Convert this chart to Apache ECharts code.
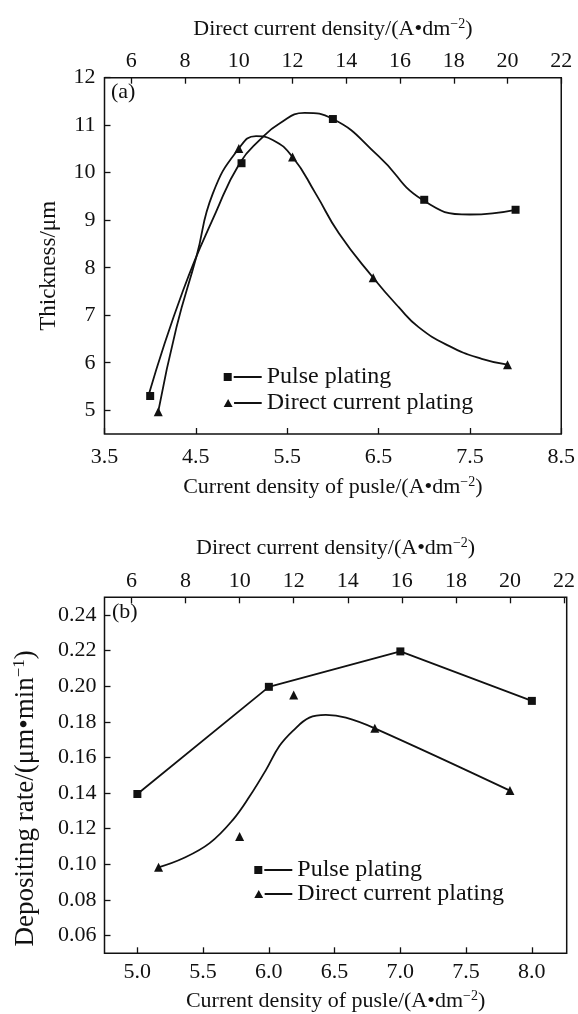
<!DOCTYPE html>
<html>
<head>
<meta charset="utf-8">
<script src="https://cdn.jsdelivr.net/npm/echarts@6/dist/echarts.min.js"></script>
<style>html,body{margin:0;padding:0;background:#fff;}#c{width:578px;height:1014px;}</style>
</head>
<body>
<div id="c"></div>
<script>
// ---------- Data: panel (a) thickness ----------
const aPulseX = [4.0, 5.0, 6.0, 7.0, 8.0];          // current density of pulse
const aPulseY = [5.3, 10.2, 11.13, 9.43, 9.22];
const aDcX = [7, 10, 12, 15, 20];                     // direct current density
const aDcY = [4.97, 10.51, 10.33, 7.79, 5.96];
// curve traces
const aPulseCurveX = [3.98, 4.36, 4.72, 4.98, 5.2, 5.42, 5.69, 6.0, 6.5, 6.98, 7.5, 8.0];
const aPulseCurveY = [5.3, 7.52, 9.17, 10.2, 10.69, 11.04, 11.26, 11.13, 10.35, 9.43, 9.12, 9.22];
const aDcCurveX = [7.0, 7.68, 8.42, 9.03, 10.0, 10.64, 11.26, 12.0, 12.86, 13.73, 15.0, 15.95, 16.69, 17.8, 19.04, 20.0];
const aDcCurveY = [4.97, 6.75, 8.23, 9.56, 10.51, 10.77, 10.69, 10.33, 9.56, 8.72, 7.79, 7.17, 6.75, 6.36, 6.08, 5.96];
const aLeftTicks = [5, 6, 7, 8, 9, 10, 11, 12];
const aTopTicks = [6, 8, 10, 12, 14, 16, 18, 20, 22];

// ---------- Data: panel (b) depositing rate ----------
const bPulseX = [5.0, 6.0, 7.0, 8.0];
const bPulseY = [0.1395, 0.1997, 0.2196, 0.1918];
const bDcX = [7, 10, 12, 15, 20];
const bDcY = [0.0983, 0.1156, 0.1951, 0.1764, 0.1414];
const bDcCurveX = [7.0, 7.91, 8.89, 9.75, 10.37, 10.98, 11.47, 11.96, 12.58, 13.19, 13.93, 15.0, 20.0];
const bDcCurveY = [0.0983, 0.1034, 0.1119, 0.125, 0.1382, 0.1532, 0.1664, 0.1748, 0.1824, 0.1839, 0.1824, 0.1764, 0.1414];
const bLeftTicks = [0.06, 0.08, 0.10, 0.12, 0.14, 0.16, 0.18, 0.20, 0.22, 0.24];
const bBottomTicks = [5.0, 5.5, 6.0, 6.5, 7.0, 7.5, 8.0];
const bTopTicks = [6, 8, 10, 12, 14, 16, 18, 20, 22];

const zip = (xs, ys) => xs.map((x, i) => [x, ys[i]]);
const FONT = 'Liberation Serif';
const FS = 22;
const INK = '#111';
const nameStyle = (fs, pad) => ({ fontFamily: FONT, fontSize: fs, color: INK,
  rich: { sup: { fontFamily: FONT, color: INK, verticalAlign: 'bottom', fontSize: Math.round(fs * 0.62), padding: [0, 0, Math.round(fs * 0.45), 0] } },
  padding: pad || 0 });
const labelStyle = { fontFamily: FONT, fontSize: FS, color: INK };
const tickStyle = { inside: true, length: 6, lineStyle: { color: INK, width: 1.3 } };
const sqIcon = 'path://M0,0H8V8H0Z M10,3H38V5H10Z';
const triIcon = 'path://M4,0L8.5,8H-0.5Z M10,3H38V5H10Z';

const chart = echarts.init(document.getElementById('c'), null, { renderer: 'canvas' });
chart.setOption({
  animation: false,
  backgroundColor: '#fff',
  grid: [
    { left: 104.5, right: 15.3, top: 77.7, bottom: 580, show: true, borderColor: INK, borderWidth: 1.5, backgroundColor: 'transparent' },
    { left: 104.5, right: 10.5, top: 597.3, bottom: 60.7, show: true, borderColor: INK, borderWidth: 1.5, backgroundColor: 'transparent' }
  ],
  xAxis: [
    { gridIndex: 0, type: 'value', position: 'bottom', min: 3.5, max: 8.5, interval: 1,
      axisLine: { show: false }, splitLine: { show: false }, axisTick: tickStyle,
      axisLabel: Object.assign({ margin: 12 }, labelStyle),
      name: 'Current density of pusle/(A•dm{sup|−2})', nameLocation: 'middle', nameGap: 41, nameTextStyle: nameStyle(22) },
    { gridIndex: 0, type: 'value', position: 'top', min: 5, max: 22,
      axisLine: { show: false }, splitLine: { show: false },
      axisTick: Object.assign({ customValues: aTopTicks }, tickStyle),
      axisLabel: Object.assign({ margin: 5, customValues: aTopTicks }, labelStyle),
      name: 'Direct current density/(A•dm{sup|−2})', nameLocation: 'middle', nameGap: 36, nameTextStyle: nameStyle(22) },
    { gridIndex: 1, type: 'value', position: 'bottom', min: 4.75, max: 8.265,
      axisLine: { show: false }, splitLine: { show: false },
      axisTick: Object.assign({ customValues: bBottomTicks }, tickStyle),
      axisLabel: Object.assign({ margin: 8, customValues: bBottomTicks, formatter: v => v.toFixed(1) }, labelStyle),
      name: 'Current density of pusle/(A•dm{sup|−2})', nameLocation: 'middle', nameGap: 36, nameTextStyle: nameStyle(22) },
    { gridIndex: 1, type: 'value', position: 'top', min: 5, max: 22.1,
      axisLine: { show: false }, splitLine: { show: false },
      axisTick: Object.assign({ customValues: bTopTicks }, tickStyle),
      axisLabel: Object.assign({ margin: 5, customValues: bTopTicks }, labelStyle),
      name: 'Direct current density/(A•dm{sup|−2})', nameLocation: 'middle', nameGap: 37, nameTextStyle: nameStyle(22) }
  ],
  yAxis: [
    { gridIndex: 0, type: 'value', min: 4.5, max: 12,
      axisLine: { show: false }, splitLine: { show: false },
      axisTick: Object.assign({ customValues: aLeftTicks }, tickStyle),
      axisLabel: Object.assign({ margin: 9, customValues: aLeftTicks }, labelStyle),
      name: 'Thickness/μm', nameLocation: 'middle', nameGap: 44, nameTextStyle: nameStyle(23, [0, 20, 0, 0]) },
    { gridIndex: 1, type: 'value', min: 0.05, max: 0.25,
      axisLine: { show: false }, splitLine: { show: false },
      axisTick: Object.assign({ customValues: bLeftTicks }, tickStyle),
      axisLabel: Object.assign({ margin: 8, customValues: bLeftTicks, formatter: v => v.toFixed(2) }, labelStyle),
      name: 'Depositing rate/(μm•min{sup|−1})', nameLocation: 'middle', nameGap: 64, nameTextStyle: nameStyle(27, [0, 46, 0, 0]) }
  ],
  legend: [
    { orient: 'vertical', left: 218.7, top: 360, itemWidth: 38, itemHeight: 8, itemGap: 2,
      textStyle: { fontFamily: FONT, fontSize: 24, color: INK, lineHeight: 24 },
      data: [{ name: 'Pulse plating', icon: sqIcon }, { name: 'Direct current plating', icon: triIcon }] },
    { orient: 'vertical', left: 249.3, top: 853, itemWidth: 38, itemHeight: 8, itemGap: 0,
      textStyle: { fontFamily: FONT, fontSize: 24, color: INK, lineHeight: 24 },
      data: [{ name: 'Pulse plating', icon: sqIcon }, { name: 'Direct current plating', icon: triIcon }] }
  ],
  graphic: [
    { type: 'text', left: 111, top: 81, style: { text: '(a)', font: '22px "' + FONT + '"', fill: INK } },
    { type: 'text', left: 112, top: 601, style: { text: '(b)', font: '22px "' + FONT + '"', fill: INK } }
  ],
  series: [
    { name: 'Pulse plating', type: 'line', xAxisIndex: 0, yAxisIndex: 0, data: zip(aPulseCurveX, aPulseCurveY),
      smooth: 0.5, showSymbol: false, symbol: 'none', itemStyle: { color: INK }, lineStyle: { color: INK, width: 1.8 } },
    { name: 'Pulse plating', type: 'scatter', xAxisIndex: 0, yAxisIndex: 0, data: zip(aPulseX, aPulseY),
      symbol: 'rect', symbolSize: 8, itemStyle: { color: INK, opacity: 1 } },
    { name: 'Direct current plating', type: 'line', xAxisIndex: 1, yAxisIndex: 0, data: zip(aDcCurveX, aDcCurveY),
      smooth: 0.5, showSymbol: false, symbol: 'none', itemStyle: { color: INK }, lineStyle: { color: INK, width: 1.8 } },
    { name: 'Direct current plating', type: 'scatter', xAxisIndex: 1, yAxisIndex: 0, data: zip(aDcX, aDcY),
      symbol: 'triangle', symbolSize: 9, itemStyle: { color: INK, opacity: 1 } },
    { name: 'Pulse plating', type: 'line', xAxisIndex: 2, yAxisIndex: 1, data: zip(bPulseX, bPulseY),
      smooth: false, symbol: 'rect', symbolSize: 8, itemStyle: { color: INK, opacity: 1 }, lineStyle: { color: INK, width: 1.8 } },
    { name: 'Direct current plating', type: 'line', xAxisIndex: 3, yAxisIndex: 1, data: zip(bDcCurveX, bDcCurveY),
      smooth: 0.4, showSymbol: false, symbol: 'none', itemStyle: { color: INK }, lineStyle: { color: INK, width: 1.8 } },
    { name: 'Direct current plating', type: 'scatter', xAxisIndex: 3, yAxisIndex: 1, data: zip(bDcX, bDcY),
      symbol: 'triangle', symbolSize: 9, itemStyle: { color: INK, opacity: 1 } }
  ]
});
</script>
</body>
</html>
